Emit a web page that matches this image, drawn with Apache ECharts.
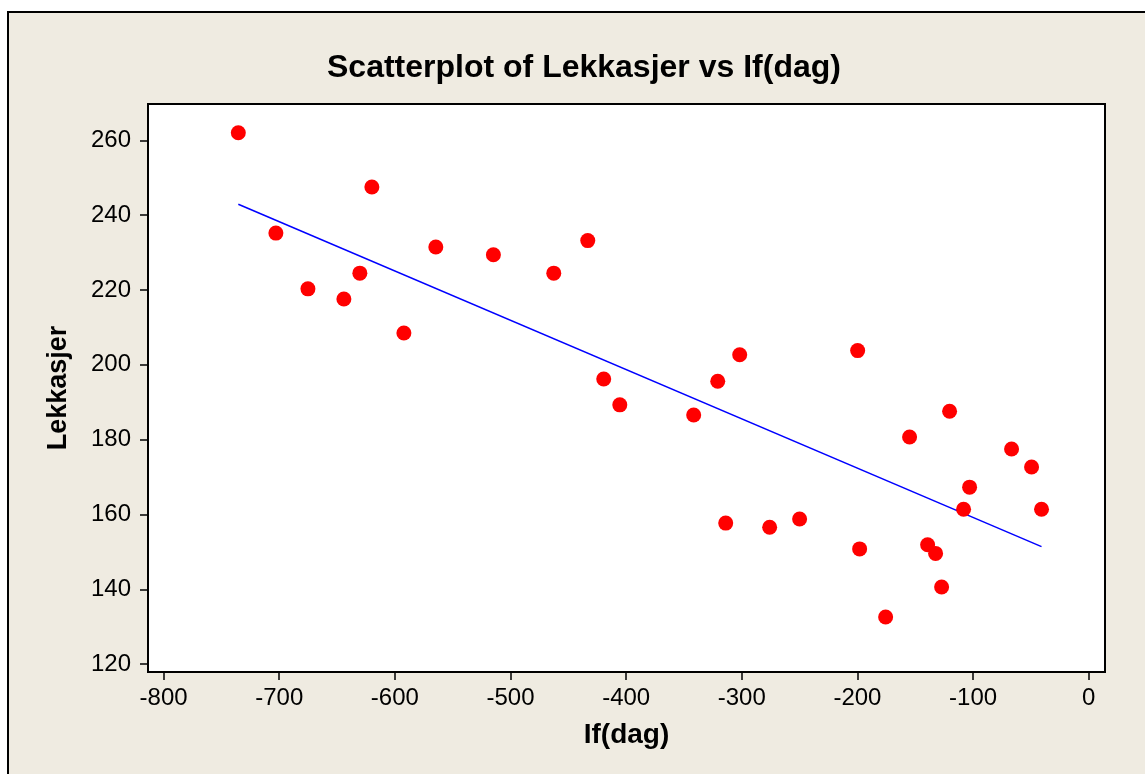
<!DOCTYPE html>
<html>
<head>
<meta charset="utf-8">
<script src="https://cdn.jsdelivr.net/npm/echarts@6/dist/echarts.min.js"></script>
<style>
    html, body { margin: 0; padding: 0; background: #fff; overflow: hidden; }
    #frame { position: absolute; left: 7px; top: 11px; width: 1200px; height: 800px;
             border: 2px solid #000; background: #EFEBE1; }
    #chart { position: absolute; left: 0; top: 0; width: 1145px; height: 774px; }
</style>
</head>
<body>
<div id="frame"></div>
<div id="chart"></div>
<script>
// If(dag) og Lekkasjer, lest av figuren
var ifDag = [-735.4, -702.9, -675.2, -644.1, -630.3, -619.9, -592.2, -564.6, -514.8, -462.6,
             -433.2, -419.4, -405.5, -341.6, -320.8, -313.9, -301.8, -275.9, -250.0, -199.8,
             -198.1, -175.6, -154.9, -139.3, -132.4, -127.2, -120.3, -108.2, -103.0, -66.7,
             -49.4, -40.8];
var lekkasjer = [262.0, 235.2, 220.3, 217.6, 224.5, 247.5, 208.5, 231.5, 229.4, 224.5,
                 233.2, 196.2, 189.3, 186.6, 195.6, 157.7, 202.7, 156.6, 158.8, 203.8,
                 150.8, 132.6, 180.7, 151.9, 149.6, 140.6, 187.6, 161.4, 167.3, 177.5,
                 172.7, 161.4];
// endepunkter for regresjonslinja
var fitX = [-735.4, -40.8];
var fitY = [242.9, 151.4];
var xTicks = [-800, -700, -600, -500, -400, -300, -200, -100, 0];
var yTicks = [120, 140, 160, 180, 200, 220, 240, 260];

var font = 'Liberation Sans';

function pairs(a, b) {
    var out = [];
    for (var i = 0; i < a.length; i++) out.push([a[i], b[i]]);
    return out;
}

var dom = document.getElementById('chart');
var myChart = echarts.init(dom, null, {renderer: 'canvas'});
var option = {
    backgroundColor: 'transparent',
    animation: false,
    title: {
        text: 'Scatterplot of Lekkasjer vs If(dag)',
        left: 322,
        top: 47,
        textStyle: {fontFamily: font, fontWeight: 'bold', fontSize: 32, color: '#000'}
    },
    grid: {
        left: 148, right: 40, top: 104, bottom: 102,
        show: true,
        backgroundColor: '#fff',
        borderColor: '#000',
        borderWidth: 2
    },
    xAxis: {
        type: 'value',
        min: -813.5,
        max: 14.1,
        name: 'If(dag)',
        nameLocation: 'middle',
        nameGap: 49,
        nameTextStyle: {fontFamily: font, fontWeight: 'bold', fontSize: 28, color: '#000'},
        axisLine: {show: true, onZero: false, lineStyle: {color: '#000', width: 2}},
        axisTick: {show: true, length: 8, lineStyle: {color: '#000', width: 1.5}, customValues: xTicks},
        axisLabel: {fontFamily: font, fontSize: 24, color: '#000', margin: 14, customValues: xTicks},
        splitLine: {show: false}
    },
    yAxis: {
        type: 'value',
        min: 117.9,
        max: 269.7,
        name: 'Lekkasjer',
        nameLocation: 'middle',
        nameGap: 76,
        nameTextStyle: {fontFamily: font, fontWeight: 'bold', fontSize: 27, color: '#000'},
        axisLine: {show: true, onZero: false, lineStyle: {color: '#000', width: 2}},
        axisTick: {show: true, length: 8, lineStyle: {color: '#000', width: 1.5}, customValues: yTicks},
        axisLabel: {fontFamily: font, fontSize: 24, color: '#000', margin: 17, customValues: yTicks},
        splitLine: {show: false}
    },
    series: [
        {
            name: 'fit',
            type: 'line',
            data: pairs(fitX, fitY),
            showSymbol: false,
            silent: true,
            lineStyle: {color: '#0000FF', width: 1.5},
            z: 1
        },
        {
            name: 'Lekkasjer',
            type: 'scatter',
            data: pairs(ifDag, lekkasjer),
            symbolSize: 15,
            itemStyle: {color: '#FF0000', opacity: 1},
            z: 2
        }
    ]
};
myChart.setOption(option, true);
window.onresize = myChart.resize;
</script>
</body>
</html>
